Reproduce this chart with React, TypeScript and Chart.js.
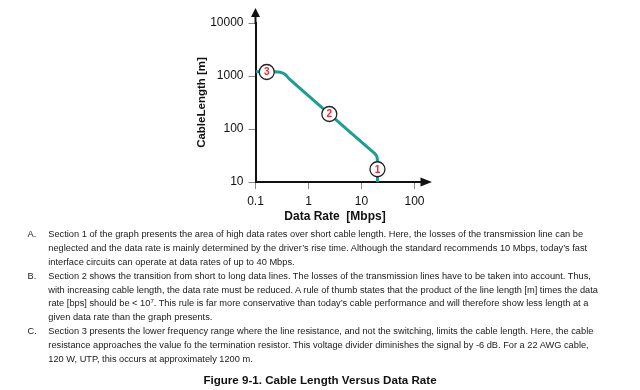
import React, { useEffect, useRef } from "react";
import { Chart, registerables } from "chart.js";

Chart.register(...registerables);

// ---- data ----
const curveRate = [0.1, 0.22, 0.27, 0.31, 0.36, 0.45, 2.47, 15, 17.5, 19.2, 19.9, 20, 20];
const curveLength = [1200, 1200, 1190, 1160, 1080, 850, 192, 40, 35, 31, 27, 22, 10];

const markerRate = [0.163, 2.47, 20];
const markerLength = [1190, 192, 17.4];
const markerLabels = ["3", "2", "1"];

const xTicks = [0.1, 1, 10, 100];
const xTickLabels = ["0.1", "1", "10", "100"];
const yTicks = [10, 100, 1000, 10000];
const yTickLabels = ["10", "100", "1000", "10000"];

const xTitle = "Data Rate  [Mbps]";
const yTitle = "CableLength [m]";

const FONT = "'Liberation Sans', Arial, sans-serif";

const arrowPlugin = {
  id: "axisArrows",
  afterDraw(chart: any) {
    const { ctx } = chart;
    const { left, right, top, bottom } = chart.chartArea;
    ctx.save();
    ctx.strokeStyle = "#111";
    ctx.fillStyle = "#111";
    ctx.lineWidth = 2;
    ctx.beginPath();
    ctx.moveTo(left, top + 1);
    ctx.lineTo(left, top - 7);
    ctx.moveTo(right - 1, bottom);
    ctx.lineTo(right + 7, bottom);
    ctx.stroke();
    ctx.beginPath();
    ctx.moveTo(left, top - 15);
    ctx.lineTo(left - 4.5, top - 6);
    ctx.lineTo(left + 4.5, top - 6);
    ctx.closePath();
    ctx.fill();
    ctx.beginPath();
    ctx.moveTo(right + 17.5, bottom);
    ctx.lineTo(right + 6, bottom - 4.5);
    ctx.lineTo(right + 6, bottom + 4.5);
    ctx.closePath();
    ctx.fill();
    ctx.restore();
  },
};

const markerTextPlugin = {
  id: "markerText",
  afterDatasetsDraw(chart: any) {
    const meta = chart.getDatasetMeta(0);
    const { ctx } = chart;
    ctx.save();
    ctx.fillStyle = "#ea2a35";
    ctx.font = `bold 10px ${FONT}`;
    ctx.textAlign = "center";
    ctx.textBaseline = "middle";
    meta.data.forEach((pt: any, i: number) => {
      ctx.fillText(markerLabels[i], pt.x, pt.y + 0.5);
    });
    ctx.restore();
  },
};

function ChartCanvas() {
  const ref = useRef<HTMLCanvasElement | null>(null);
  useEffect(() => {
    if (!ref.current) return;
    const chart = new Chart(ref.current, {
      type: "line",
      data: {
        datasets: [
          {
            label: "markers",
            data: markerRate.map((x, i) => ({ x, y: markerLength[i] })),
            showLine: false,
            pointRadius: 7.5,
            pointHoverRadius: 7.5,
            pointBackgroundColor: "#ffffff",
            pointBorderColor: "#222",
            pointBorderWidth: 1.3,
            order: 0,
          },
          {
            label: "curve",
            data: curveRate.map((x, i) => ({ x, y: curveLength[i] })),
            borderColor: "#1f9c94",
            borderWidth: 3,
            pointRadius: 0,
            tension: 0.3,
            fill: false,
            order: 1,
          },
        ],
      },
      options: {
        responsive: false,
        animation: false,
        events: [],
        layout: { padding: { left: 195.4, right: 225.5, top: 23, bottom: 6.5 } },
        plugins: { legend: { display: false }, tooltip: { enabled: false } },
        scales: {
          x: {
            type: "logarithmic",
            position: "bottom",
            min: 0.1,
            max: 100,
            afterBuildTicks: (s: any) => {
              s.ticks = xTicks.map((v) => ({ value: v }));
            },
            afterFit: (s: any) => {
              s.height = 41.5;
            },
            ticks: {
              autoSkip: false,
              maxRotation: 0,
              padding: 5,
              color: "#111",
              font: { family: FONT, size: 12 },
              callback: (v: any) => xTickLabels[xTicks.indexOf(Number(v))] ?? "",
            },
            grid: { drawOnChartArea: false, drawTicks: true, tickLength: 7, color: "#888", lineWidth: 1 },
            border: { display: true, color: "#111", width: 2 },
            title: {
              display: true,
              text: xTitle,
              color: "#111",
              padding: 0,
              font: { family: FONT, size: 12, weight: "bold" },
            },
          },
          y: {
            type: "logarithmic",
            position: "left",
            min: 10,
            max: 10000,
            afterBuildTicks: (s: any) => {
              s.ticks = yTicks.map((v) => ({ value: v }));
            },
            afterFit: (s: any) => {
              s.width = 60.1;
            },
            ticks: {
              autoSkip: false,
              padding: 5,
              color: "#111",
              font: { family: FONT, size: 12 },
              callback: (v: any) => yTickLabels[yTicks.indexOf(Number(v))] ?? "",
            },
            grid: { drawOnChartArea: false, drawTicks: true, tickLength: 7, color: "#888", lineWidth: 1 },
            border: { display: true, color: "#111", width: 2 },
            title: {
              display: true,
              text: yTitle,
              color: "#111",
              padding: 0,
              font: { family: FONT, size: 11.5, weight: "bold" },
            },
          },
        },
      },
      plugins: [arrowPlugin, markerTextPlugin],
    } as any);
    return () => chart.destroy();
  }, []);
  return (
    <canvas
      ref={ref}
      width={640}
      height={230}
      style={{ position: "absolute", left: 0, top: 0, width: 640, height: 230 }}
    />
  );
}

type Line = { mark?: string; text: React.ReactNode };

const lines: Line[] = [
  { mark: "A.", text: "Section 1 of the graph presents the area of high data rates over short cable length. Here, the losses of the transmission line can be" },
  { text: "neglected and the data rate is mainly determined by the driver’s rise time. Although the standard recommends 10 Mbps, today’s fast" },
  { text: "interface circuits can operate at data rates of up to 40 Mbps." },
  { mark: "B.", text: "Section 2 shows the transition from short to long data lines. The losses of the transmission lines have to be taken into account. Thus," },
  { text: "with increasing cable length, the data rate must be reduced. A rule of thumb states that the product of the line length [m] times the data" },
  {
    text: (
      <>
        rate [bps] should be &lt; 10
        <sup style={{ fontSize: "6px", verticalAlign: "top", lineHeight: "8px" }}>7</sup>. This rule is far more conservative than today’s cable performance and will therefore show less length at a
      </>
    ),
  },
  { text: "given data rate than the graph presents." },
  { mark: "C.", text: "Section 3 presents the lower frequency range where the line resistance, and not the switching, limits the cable length. Here, the cable" },
  { text: "resistance approaches the value fo the termination resistor. This voltage divider diminishes the signal by -6 dB. For a 22 AWG cable," },
  { text: "120 W, UTP, this occurs at approximately 1200 m." },
];

export default function App() {
  return (
    <div style={{ position: "absolute", left: 0, top: 0, width: 640, height: 390, background: "#fff", overflow: "hidden" }}>
      <ChartCanvas />
      <div
        style={{
          position: "absolute",
          left: 0,
          top: 228,
          width: 640,
          fontFamily: FONT,
          fontSize: "9.25px",
          color: "#1a1a1a",
        }}
      >
        {lines.map((l, i) => (
          <div key={i} style={{ position: "relative", height: "13.9px", lineHeight: "13.9px", whiteSpace: "nowrap" }}>
            {l.mark && <span style={{ position: "absolute", left: 27.5 }}>{l.mark}</span>}
            <span style={{ position: "absolute", left: 48.3 }}>{l.text}</span>
          </div>
        ))}
      </div>
      <div
        style={{
          position: "absolute",
          left: 0,
          top: 372,
          width: 640,
          textAlign: "center",
          fontFamily: FONT,
          fontWeight: "bold",
          fontSize: "11.6px",
          lineHeight: "16px",
          color: "#111",
        }}
      >
        Figure 9-1. Cable Length Versus Data Rate
      </div>
    </div>
  );
}
